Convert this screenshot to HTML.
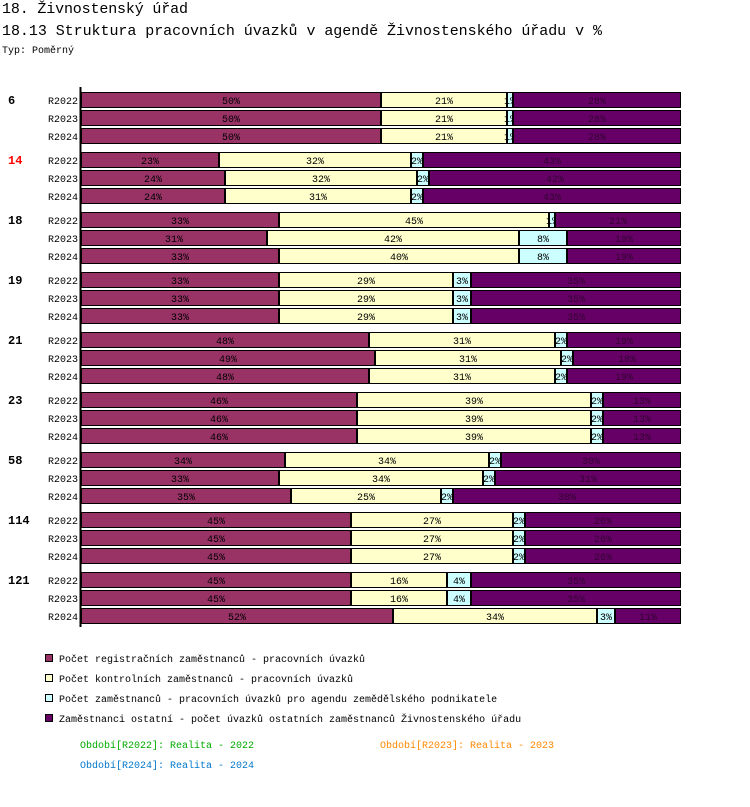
<!DOCTYPE html>
<html><head><meta charset="utf-8"><style>
body{margin:0;background:#fff;width:750px;height:802px;overflow:hidden;font-family:"Liberation Mono",monospace}
</style></head><body>
<svg id="c" width="750" height="802" xmlns="http://www.w3.org/2000/svg" style="font-family:'Liberation Mono',monospace">
<text x="2" y="13" font-size="15" textLength="186">18. Živnostenský úřad</text>
<text x="2" y="35" font-size="15" textLength="600">18.13 Struktura pracovních úvazků v agendě Živnostenského úřadu v %</text>
<text x="2" y="53" font-size="10">Typ: Poměrný</text>
<line x1="80.5" y1="87" x2="80.5" y2="627" stroke="#000" stroke-width="2"/>
<g id="bars"></g>
<g id="legend"></g>
<text x="80" y="748" font-size="10" fill="#00aa00">Období[R2022]: Realita - 2022</text>
<text x="380" y="748" font-size="10" fill="#ff8800">Období[R2023]: Realita - 2023</text>
<text x="80" y="768" font-size="10" fill="#0077cc">Období[R2024]: Realita - 2024</text>
</svg>
<script>
const groups=["6","14","18","19","21","23","58","114","121"];
const periods=["R2022","R2023","R2024"];
const seriesNames=["Počet registračních zaměstnanců - pracovních úvazků","Počet kontrolních zaměstnanců - pracovních úvazků","Počet zaměstnanců - pracovních úvazků pro agendu zemědělského podnikatele","Zaměstnanci ostatní - počet úvazků ostatních zaměstnanců Živnostenského úřadu"];
const registr=[[50,50,50],[23,24,24],[33,31,33],[33,33,33],[48,49,48],[46,46,46],[34,33,35],[45,45,45],[45,45,52]];
const kontrol=[[21,21,21],[32,32,31],[45,42,40],[29,29,29],[31,31,31],[39,39,39],[34,34,25],[27,27,27],[16,16,34]];
const zemed=[[1,1,1],[2,2,2],[1,8,8],[3,3,3],[2,2,2],[2,2,2],[2,2,2],[2,2,2],[4,4,3]];
const ostatni=[[28,28,28],[43,42,43],[21,19,19],[35,35,35],[19,18,19],[13,13,13],[30,31,38],[26,26,26],[35,35,11]];
const colors=["#993366","#ffffcc","#ccffff","#660066"];
const textCol=["#000","#000","#000","#330033"];
const NS="http://www.w3.org/2000/svg";
const X0=81,W=600,Y0=92,GS=60,RS=18,BH=16;
const xs=v=>v/100*W;
const g=document.getElementById('bars');
function mk(t,a){const e=document.createElementNS(NS,t);for(const k in a)e.setAttribute(k,a[k]);return e;}
groups.forEach((gn,gi)=>{
  const gl=mk('text',{x:8,y:Y0+gi*GS+12,'font-size':12,'font-weight':'bold',fill:gn==="14"?"#ff0000":"#000"});
  gl.textContent=gn;
  
  
  g.appendChild(gl);
  periods.forEach((p,pi)=>{
    const y=Y0+gi*GS+pi*RS;
    const pl=mk('text',{x:78,y:y+12,'font-size':10,'text-anchor':'end'});
    pl.textContent=p;
    
    
    g.appendChild(pl);
    const vals=[registr[gi][pi],kontrol[gi][pi],zemed[gi][pi],ostatni[gi][pi]];
    const tot=vals.reduce((a,b)=>a+b,0);
    let cx=X0;
    vals.forEach((v,si)=>{
      const w=xs(v*100/tot);
      const r=mk('rect',{x:cx+0.5,y:y+0.5,width:Math.max(w-1,0),height:BH-1,fill:colors[si],stroke:'#000','stroke-width':1});
      
      
      g.appendChild(r);
      const t=mk('text',{x:cx+w/2,y:y+12,'font-size':10,'text-anchor':'middle',fill:textCol[si]});
      t.textContent=v+'%';
      
      
      g.appendChild(t);
      cx+=w;
    });
  });
});
const lg=document.getElementById('legend');
seriesNames.forEach((n,i)=>{
  const y=654+i*20;
  const r=mk('rect',{x:45.5,y:y+0.5,width:7,height:7,fill:colors[i],stroke:'#000'});
  
  
  lg.appendChild(r);
  const t=mk('text',{x:59,y:y+8,'font-size':10});
  t.textContent=n;
  
  
  lg.appendChild(t);
});
</script>
</body></html>
